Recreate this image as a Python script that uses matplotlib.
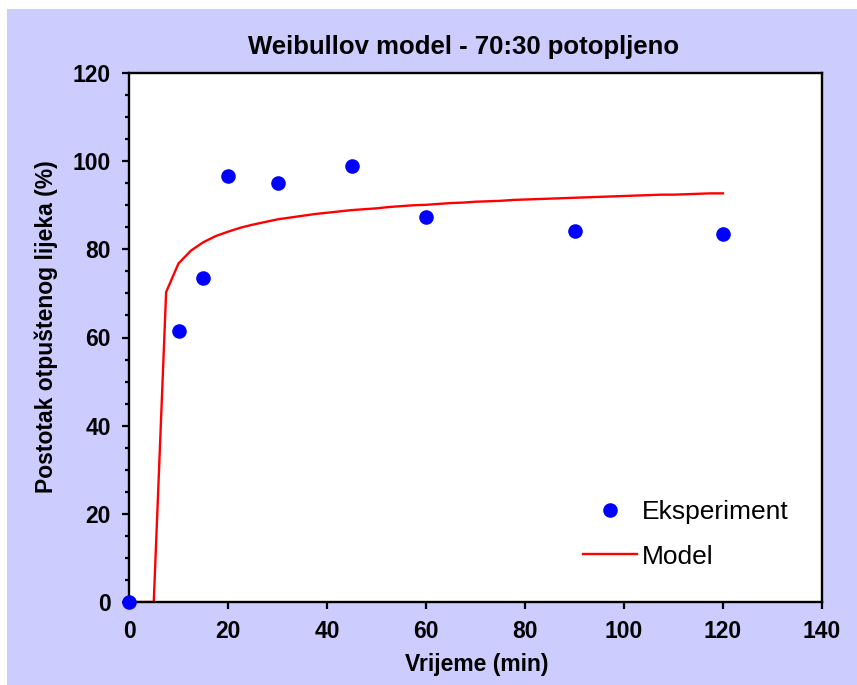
import matplotlib
matplotlib.use("Agg")
import matplotlib.pyplot as plt
from matplotlib.patches import Rectangle
from matplotlib.ticker import MultipleLocator

plt.rcParams['font.family'] = ['Liberation Sans', 'DejaVu Sans']

# eksperimentalni podaci
t_exp = [0, 10, 15, 20, 30, 45, 60, 90, 120]
rel_exp = [0, 61.4, 73.4, 96.6, 95.0, 98.9, 87.3, 84.1, 83.4]

# Weibullov model (korak 2.5 min)
t_mod = [0, 2.5, 5, 7.5, 10, 12.5, 15, 17.5, 20, 22.5, 25, 27.5, 30, 32.5, 35,
         37.5, 40, 42.5, 45, 47.5, 50, 52.5, 55, 57.5, 60, 62.5, 65, 67.5, 70,
         72.5, 75, 77.5, 80, 82.5, 85, 87.5, 90, 92.5, 95, 97.5, 100, 102.5,
         105, 107.5, 110, 112.5, 115, 117.5, 120]
rel_mod = [0, 0, 0, 70.3, 76.8, 79.7, 81.6, 83.0, 84.0, 84.9, 85.6, 86.2, 86.8,
           87.2, 87.6, 88.0, 88.3, 88.6, 88.9, 89.1, 89.3, 89.6, 89.8, 90.0,
           90.1, 90.3, 90.5, 90.6, 90.8, 90.9, 91.0, 91.2, 91.3, 91.4, 91.5,
           91.6, 91.7, 91.8, 91.9, 92.0, 92.1, 92.2, 92.3, 92.4, 92.4, 92.5,
           92.6, 92.7, 92.7]

fig = plt.figure(figsize=(8.57, 6.85), dpi=100, facecolor='white')
# lavanda pozadina
fig.add_artist(Rectangle((7 / 857, 0), 1 - 7 / 857, 1 - 9 / 685,
                         transform=fig.transFigure, facecolor='#CCCCFF',
                         edgecolor='none', zorder=-1))

ax = fig.add_axes([129 / 857, 83 / 685, 693 / 857, 529 / 685])
ax.set_facecolor('white')

ax.plot(t_exp, rel_exp, 'o', color='#0000FF', ms=10.5, mec='none',
        label='Eksperiment', zorder=3, clip_on=False)
ax.plot(t_mod, rel_mod, '-', color='#FF0000', lw=1.7, label='Model', zorder=2)

ax.set_xlim(0, 140)
ax.set_ylim(0, 120)
ax.xaxis.set_major_locator(MultipleLocator(20))
ax.yaxis.set_major_locator(MultipleLocator(20))
ax.yaxis.set_minor_locator(MultipleLocator(5))

for s in ax.spines.values():
    s.set_linewidth(1.7)
ax.tick_params(which='major', direction='out', length=5, width=1.6,
               labelsize=16.5, pad=8)
ax.tick_params(which='minor', direction='out', length=3, width=1.6)
for lab in ax.get_xticklabels() + ax.get_yticklabels():
    lab.set_fontweight('bold')

fig.text(464 / 857, 1 - 54 / 685, 'Weibullov model - 70:30 potopljeno',
         ha='center', va='baseline', fontsize=18.5, fontweight='bold')
fig.text(477 / 857, 1 - 665 / 685, 'Vrijeme (min)', ha='center',
         va='center', fontsize=16.5, fontweight='bold')
fig.text(46 / 857, 1 - 327 / 685, 'Postotak otpuštenog lijeka (%)',
         ha='center', va='center', rotation=90, fontsize=16.5,
         fontweight='bold')

ax.legend(loc='upper left', bbox_to_anchor=(583 / 857, 1 - 500 / 685),
          bbox_transform=fig.transFigure, frameon=False, fontsize=19,
          handlelength=2.05, handletextpad=0.18, labelspacing=0.78,
          borderpad=0, borderaxespad=0, numpoints=1)

fig.savefig('out.png', dpi=100, facecolor=fig.get_facecolor())
